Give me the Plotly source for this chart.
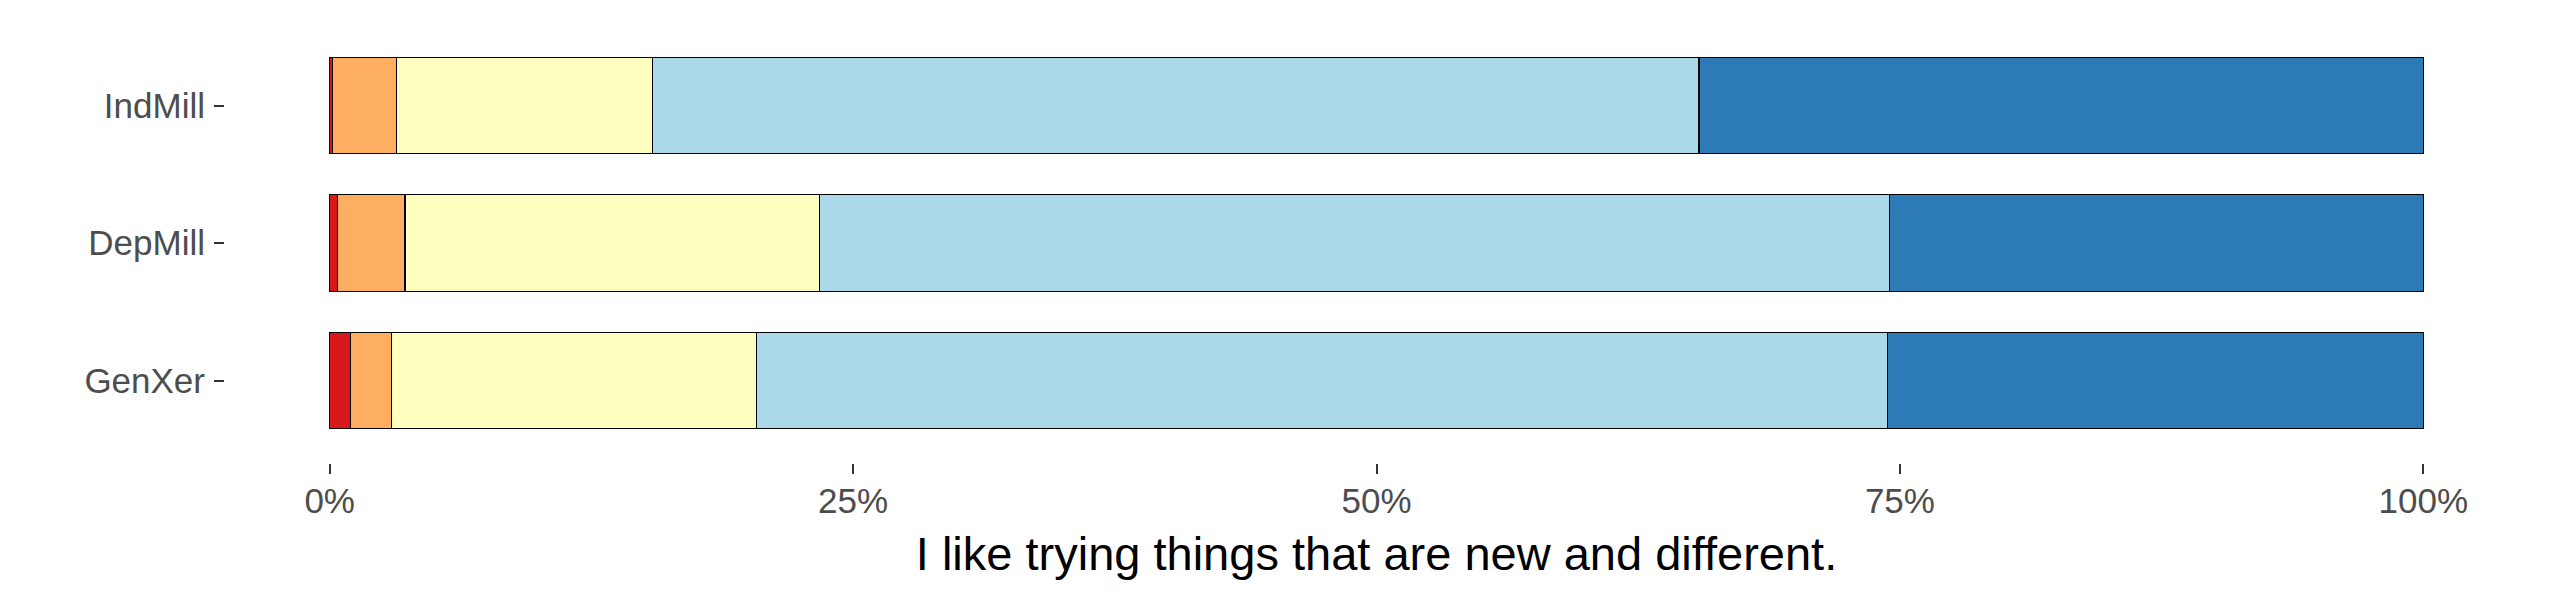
import plotly.graph_objects as go

categories = ["GenXer", "DepMill", "IndMill"]
levels = ["Strongly Disagree", "Disagree", "Neutral", "Agree", "Strongly Agree"]
colors = ["#D7191C", "#FDAE61", "#FFFFBF", "#ABD9E9", "#2C7BB6"]

strongly_disagree = [1.0, 0.36, 0.15]
disagree = [1.97, 3.24, 3.05]
neutral = [17.43, 19.8, 12.2]
agree = [54.0, 51.1, 50.0]
strongly_agree = [25.6, 25.5, 34.6]

series = [strongly_disagree, disagree, neutral, agree, strongly_agree]

tick_vals = [0, 0.25, 0.5, 0.75, 1.0]
tick_text = ["0%", "25%", "50%", "75%", "100%"]

fig = go.Figure()
for name, vals, col in zip(levels, series, colors):
    fig.add_trace(go.Bar(
        y=categories,
        x=[v / 100 for v in vals],
        name=name,
        orientation="h",
        marker=dict(color=col, line=dict(color="black", width=1.2)),
        showlegend=False,
    ))

fig.update_layout(
    width=2550, height=600,
    barmode="stack",
    bargap=0.3,
    plot_bgcolor="white",
    paper_bgcolor="white",
    margin=dict(l=217, r=30, t=15, b=145),
    font=dict(family="Liberation Sans, Arial, sans-serif"),
)
fig.update_xaxes(
    automargin=False,
    range=[-0.05, 1.05],
    tickvals=tick_vals,
    ticktext=tick_text,
    showgrid=False,
    zeroline=False,
    showline=False,
    ticks="outside",
    ticklen=10,
    tickwidth=2,
    tickcolor="#333333",
    tickfont=dict(size=35, color="#4D4D4D"),
    ticklabelstandoff=-3,
    title=dict(text="I like trying things that are new and different.",
               font=dict(size=47, color="black"), standoff=18),
)
fig.update_yaxes(
    automargin=False,
    range=[-0.6, 2.6],
    categoryorder="array",
    categoryarray=categories,
    showgrid=False,
    zeroline=False,
    showline=False,
    ticks="outside",
    ticklen=10,
    tickwidth=2,
    tickcolor="#333333",
    tickfont=dict(size=35, color="#4D4D4D"),
    ticklabelstandoff=2,
)

fig.write_html("out.html")
